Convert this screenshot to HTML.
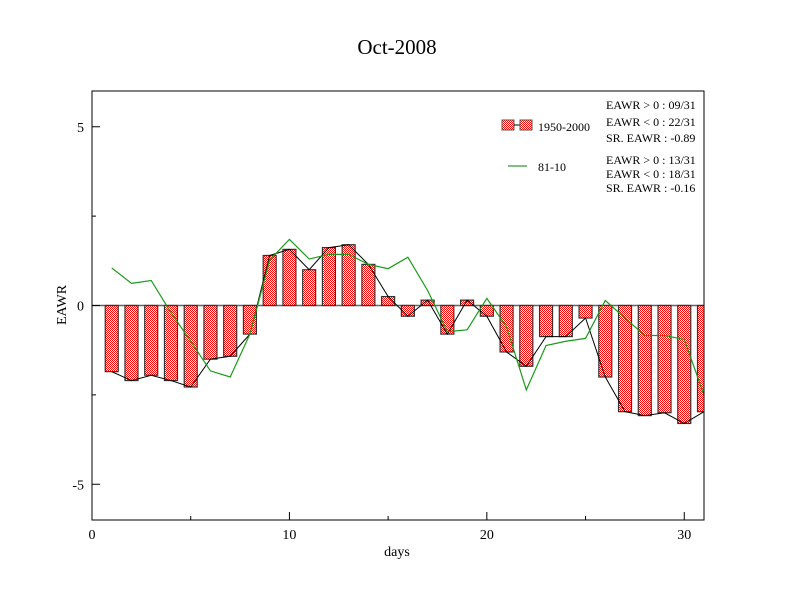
<!DOCTYPE html>
<html><head><meta charset="utf-8"><style>
html,body{margin:0;padding:0;background:#fff;}
svg{display:block;font-family:"Liberation Serif",serif;}
</style></head><body>
<svg id="chart" width="792" height="612" viewBox="0 0 792 612">
<defs>
<pattern id="chk" width="2" height="2" patternUnits="userSpaceOnUse">
<rect width="2" height="2" fill="#fff"/><rect width="1" height="1" fill="#f00"/><rect x="1" y="1" width="1" height="1" fill="#f00"/>
</pattern>
<clipPath id="clip"><rect x="92" y="91" width="612" height="429"/></clipPath>
</defs>
<text x="397" y="54" font-size="21" text-anchor="middle">Oct-2008</text>
<g id="plot" clip-path="url(#clip)"></g>
<rect x="92" y="91" width="612" height="429" fill="none" stroke="#000" stroke-width="1"/>
<g id="axes"></g>
<text x="397" y="556" font-size="14" text-anchor="middle">days</text>
<text transform="translate(66,305) rotate(-90)" font-size="14" text-anchor="middle">EAWR</text>
<g>
<rect x="502" y="120" width="12" height="10" fill="url(#chk)" stroke="#555"/>
<line x1="514" y1="125" x2="520" y2="125" stroke="#000"/>
<rect x="520" y="120" width="12" height="10" fill="url(#chk)" stroke="#555"/>
<text x="538" y="131" font-size="12">1950-2000</text>
<line x1="508" y1="166" x2="527" y2="166" stroke="#008000"/>
<text x="538" y="171" font-size="12">81-10</text>
<text x="606" y="109" font-size="12">EAWR &gt; 0 : 09/31</text>
<text x="606" y="126" font-size="12">EAWR &lt; 0 : 22/31</text>
<text x="606" y="142" font-size="12">SR. EAWR : -0.89</text>
<text x="606" y="164" font-size="12">EAWR &gt; 0 : 13/31</text>
<text x="606" y="178" font-size="12">EAWR &lt; 0 : 18/31</text>
<text x="606" y="192" font-size="12">SR. EAWR : -0.16</text>
</g>
</svg>
<script>
const days = [1,2,3,4,5,6,7,8,9,10,11,12,13,14,15,16,17,18,19,20,21,22,23,24,25,26,27,28,29,30,31];
const barValues = [-1.85,-2.1,-1.95,-2.1,-2.28,-1.5,-1.42,-0.8,1.4,1.57,1.0,1.62,1.7,1.15,0.25,-0.3,0.15,-0.8,0.15,-0.3,-1.3,-1.7,-0.87,-0.87,-0.35,-2.0,-2.97,-3.08,-3.0,-3.3,-2.97];
const lineValues = [1.05,0.62,0.7,-0.2,-1.0,-1.83,-2.0,-0.8,1.27,1.85,1.3,1.43,1.43,1.15,1.03,1.35,0.42,-0.73,-0.68,0.2,-0.6,-2.36,-1.12,-1.0,-0.92,0.14,-0.35,-0.84,-0.84,-0.95,-2.5];
const xTicks = [0,10,20,30];
const yTicks = [-5,0,5];
const yTickLabels = ["-5","0","5"];

const NS = "http://www.w3.org/2000/svg";
const X0=92, X1=704, Y0=91, Y1=520, XMIN=0, XMAX=31, YMIN=-6, YMAX=6;
function xs(v){return X0+(v-XMIN)/(XMAX-XMIN)*(X1-X0);}
function ys(v){return Y1-(v-YMIN)/(YMAX-YMIN)*(Y1-Y0);}
function mk(tag, attrs, parent){const e=document.createElementNS(NS,tag);for(const k in attrs)e.setAttribute(k,attrs[k]);parent.appendChild(e);return e;}
const plot=document.getElementById('plot'), axes=document.getElementById('axes');

const zl=mk('line',{x1:X0,x2:X1,y1:ys(0),y2:ys(0),stroke:'#666','stroke-width':1.5},plot);



const bw=13;
days.forEach((d,i)=>{
  const v=barValues[i], y=Math.min(ys(0),ys(v)), h=Math.abs(ys(v)-ys(0));
  const r=mk('rect',{x:xs(d)-bw/2,y:y,width:bw,height:h,fill:'url(#chk)',stroke:'#333','stroke-width':1.2},plot);
  
  
});
const bl=mk('polyline',{points:days.map((d,i)=>xs(d)+','+ys(barValues[i])).join(' '),fill:'none',stroke:'#000','stroke-width':1},plot);


const gl=mk('polyline',{points:days.map((d,i)=>xs(d)+','+ys(lineValues[i])).join(' '),fill:'none',stroke:'#1a9a1a','stroke-width':1.2},plot);



xTicks.forEach(t=>{
  const l=mk('line',{x1:xs(t),x2:xs(t),y1:Y1,y2:Y1-8,stroke:'#000'},axes);
  
  
  const tx=mk('text',{x:xs(t),y:Y1+19,'font-size':14,'text-anchor':'middle'},axes);
  tx.textContent=String(t);
  
  
});
for(let t=5;t<31;t+=5){ if(t%10){const l=mk('line',{x1:xs(t),x2:xs(t),y1:Y1,y2:Y1-4,stroke:'#000'},axes);
  
  }}
yTicks.forEach((t,i)=>{
  const l=mk('line',{x1:X0,x2:X0+8,y1:ys(t),y2:ys(t),stroke:'#000'},axes);
  
  
  const tx=mk('text',{x:X0-8,y:ys(t)+5,'font-size':14,'text-anchor':'end'},axes);
  tx.textContent=yTickLabels[i];
  
  
});
[-2.5,2.5].forEach(t=>{const l=mk('line',{x1:X0,x2:X0+4,y1:ys(t),y2:ys(t),stroke:'#000'},axes);
  
  });
</script>
</body></html>
